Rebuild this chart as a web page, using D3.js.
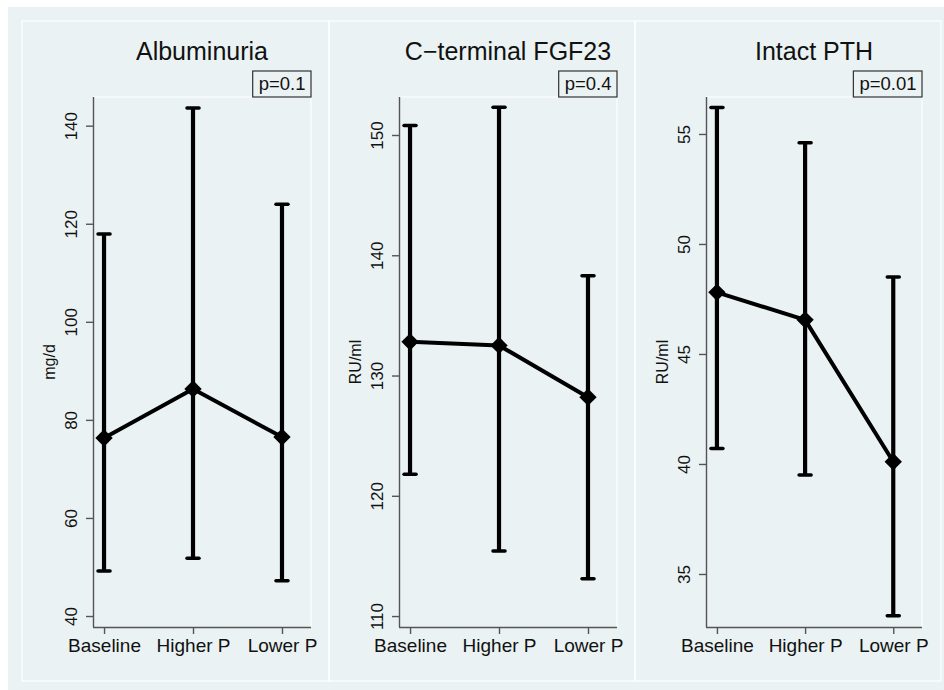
<!DOCTYPE html>
<html>
<head>
<meta charset="utf-8">
<script src="https://cdn.jsdelivr.net/npm/d3@7"></script>
<style>
  html, body { margin: 0; padding: 0; background: #ffffff; }
  svg { display: block; }
  text { font-family: "Liberation Sans", Arial, sans-serif; fill: #111; }
</style>
</head>
<body>
<svg id="chart" width="944" height="690"></svg>
<script>
// ---- data ----
const categories = ["Baseline", "Higher P", "Lower P"];
const titles = ["Albuminuria", "C\u2212terminal FGF23", "Intact PTH"];
const yTitles = ["mg/d", "RU/ml", "RU/ml"];
const pLabels = ["p=0.1", "p=0.4", "p=0.01"];

const albMean = [76.3, 86.3, 76.5];
const albLow  = [49.2, 51.8, 47.2];
const albHigh = [117.9, 143.6, 124.0];
const albTicks = [40, 60, 80, 100, 120, 140];

const fgfMean = [132.8, 132.5, 128.2];
const fgfLow  = [121.8, 115.4, 113.1];
const fgfHigh = [150.8, 152.3, 138.3];
const fgfTicks = [110, 120, 130, 140, 150];

const pthMean = [47.8, 46.55, 40.1];
const pthLow  = [40.7, 39.5, 33.1];
const pthHigh = [56.2, 54.6, 48.5];
const pthTicks = [35, 40, 45, 50, 55];

// ---- layout ----
const BG = "#eaf2f3";
const svg = d3.select("#chart");
svg.append("rect").attr("x", 8).attr("y", 7).attr("width", 936).attr("height", 683).attr("fill", BG);

const panels = [
  { mean: albMean, low: albLow, high: albHigh, ticks: albTicks, ydom: [37.76, 145.85],
    frame: [22, 329], plot: [93, 311] },
  { mean: fgfMean, low: fgfLow, high: fgfHigh, ticks: fgfTicks, ydom: [109.09, 153.16],
    frame: [329, 635], plot: [399, 617] },
  { mean: pthMean, low: pthLow, high: pthHigh, ticks: pthTicks, ydom: [32.59, 56.68],
    frame: [635, 941], plot: [706, 922] }
];
const frameTop = 21, frameBottom = 681;
const plotTop = 97, plotBottom = 627;

panels.forEach((p, i) => {
  const g = svg.append("g");
  // panel frame (white)
  g.append("rect")
    .attr("x", p.frame[0]).attr("y", frameTop)
    .attr("width", p.frame[1] - p.frame[0]).attr("height", frameBottom - frameTop)
    .attr("fill", "none").attr("stroke", "#ffffff").attr("stroke-width", 1.2);

  const x = d3.scaleLinear().domain([-0.124, 2.326]).range([p.plot[0], p.plot[1]]);
  const y = d3.scaleLinear().domain(p.ydom).range([plotBottom, plotTop]);

  // plot region border (white top/right)
  g.append("path")
    .attr("d", `M${p.plot[0]},${plotTop}H${p.plot[1]}V${plotBottom}`)
    .attr("fill", "none").attr("stroke", "#ffffff").attr("stroke-width", 1.2);

  // y axis
  const yAxis = d3.axisLeft(y).tickValues(p.ticks).tickSize(7).tickPadding(9).tickSizeOuter(0);
  const ya = g.append("g").attr("transform", `translate(${p.plot[0]},0)`).call(yAxis);
  ya.select(".domain").attr("stroke", "#555").attr("stroke-width", 1.4)
    .attr("d", `M0.5,${plotTop}V${plotBottom}`);
  ya.selectAll(".tick line").attr("stroke", "#555").attr("stroke-width", 1.4);
  ya.selectAll(".tick text")
    .attr("x", null).attr("dy", null)
    .attr("text-anchor", "middle")
    .attr("transform", "translate(-16,0) rotate(-90)")
    .attr("y", 0)
    .style("font-size", "17px").style("font-family", "Liberation Sans, Arial, sans-serif").attr("fill", "#111");

  // x axis
  const xAxis = d3.axisBottom(x).tickValues([0, 1, 2]).tickFormat(d => categories[d])
    .tickSize(7).tickPadding(6).tickSizeOuter(0);
  const xa = g.append("g").attr("transform", `translate(0,${plotBottom})`).call(xAxis);
  xa.select(".domain").attr("stroke", "#555").attr("stroke-width", 1.4)
    .attr("d", `M${p.plot[0]},0.5H${p.plot[1]}`);
  xa.selectAll(".tick line").attr("stroke", "#555").attr("stroke-width", 1.4);
  xa.selectAll(".tick text")
    .attr("dy", null).attr("y", 25)
    .style("font-size", "19px").style("font-family", "Liberation Sans, Arial, sans-serif").attr("fill", "#111");

  // axis title
  g.append("text")
    .attr("transform", `translate(${p.plot[0] - 38},${(plotTop + plotBottom) / 2}) rotate(-90)`)
    .attr("text-anchor", "middle")
    .style("font-size", "16px")
    .text(yTitles[i]);

  // panel title
  g.append("text")
    .attr("x", (p.plot[0] + p.plot[1]) / 2).attr("y", 60)
    .attr("text-anchor", "middle")
    .style("font-size", "25px")
    .text(titles[i]);

  // p-value box
  const pbox = g.append("rect");
  const pt = g.append("text")
    .attr("y", 89.5)
    .attr("text-anchor", "end")
    .attr("x", p.plot[1] - 5.5)
    .style("font-size", "18.5px")
    .text(pLabels[i]);
  const bb = pt.node().getBBox();
  pbox
    .attr("x", bb.x - 6).attr("y", 71)
    .attr("width", p.plot[1] - (bb.x - 6)).attr("height", 26)
    .attr("fill", BG).attr("stroke", "#333").attr("stroke-width", 1.2);

  // connecting line
  const line = d3.line().x((d, j) => x(j)).y(d => y(d));
  g.append("path").datum(p.mean).attr("d", line)
    .attr("fill", "none").attr("stroke", "#000").attr("stroke-width", 4).attr("stroke-linejoin", "round");

  // error bars
  const idx = d3.range(categories.length);
  g.selectAll(".eb").data(idx).enter().append("line")
    .attr("x1", j => x(j)).attr("x2", j => x(j))
    .attr("y1", j => y(p.low[j])).attr("y2", j => y(p.high[j]))
    .attr("stroke", "#000").attr("stroke-width", 4.2);
  [p.low, p.high].forEach(arr => {
    g.selectAll(null).data(idx).enter().append("line")
      .attr("x1", j => x(j) - 6).attr("x2", j => x(j) + 6)
      .attr("y1", j => y(arr[j])).attr("y2", j => y(arr[j]))
      .attr("stroke", "#000").attr("stroke-width", 3.5).attr("stroke-linecap", "round");
  });

  // diamond markers
  const sym = d3.symbol().type(d3.symbolSquare).size(150);
  g.selectAll(".dm").data(idx).enter().append("path")
    .attr("d", sym)
    .attr("transform", j => `translate(${x(j)},${y(p.mean[j])}) rotate(45)`)
    .attr("fill", "#000");
});
</script>
</body>
</html>
